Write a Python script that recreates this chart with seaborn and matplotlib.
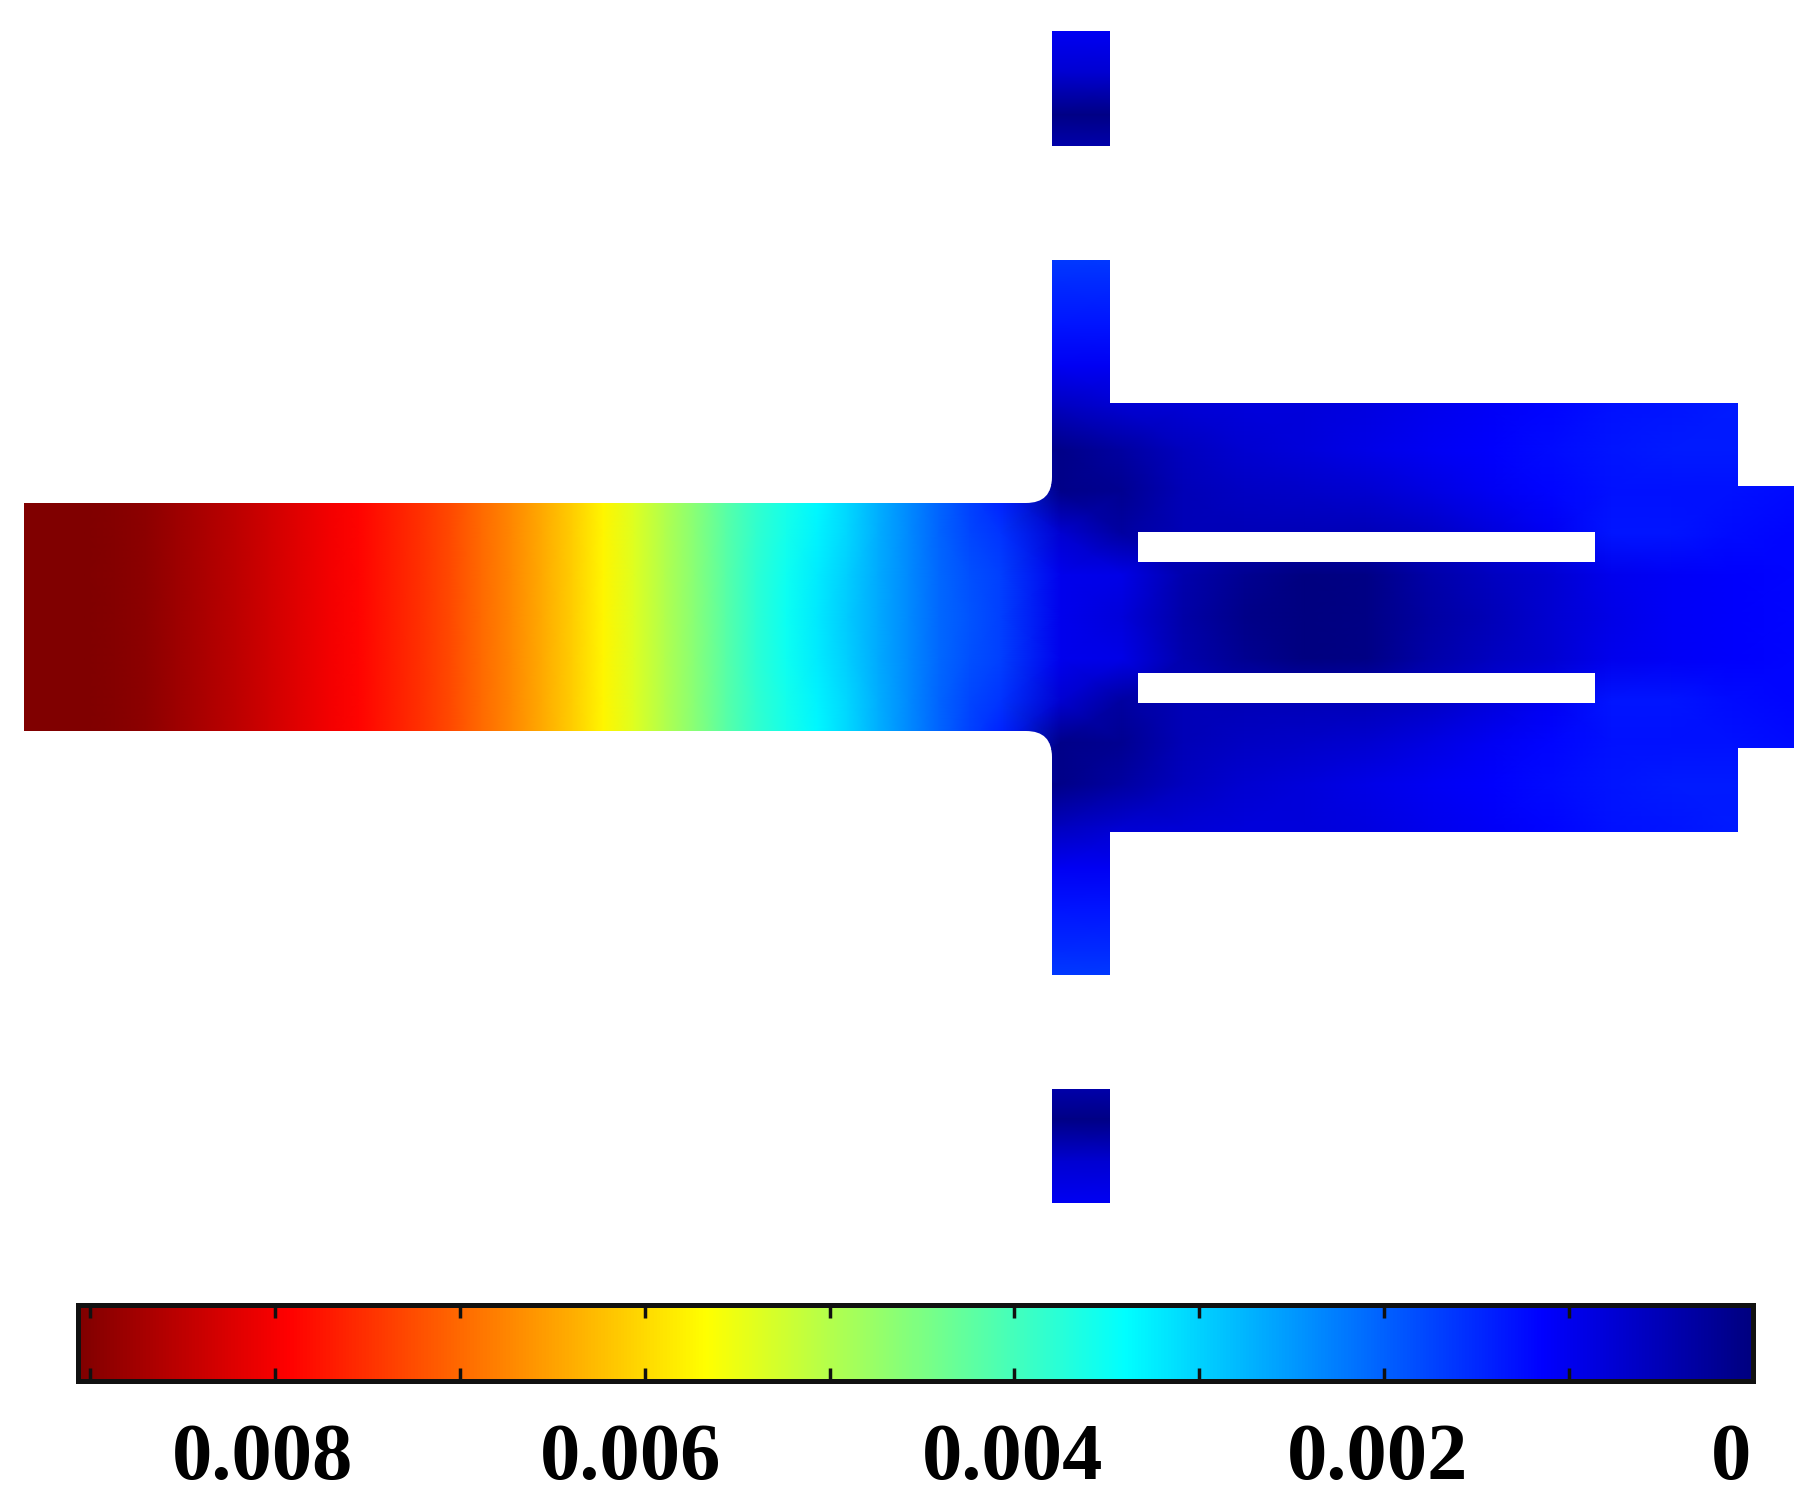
import numpy as np
import matplotlib
matplotlib.use('Agg')
import matplotlib.pyplot as plt
from matplotlib.colors import LinearSegmentedColormap
from matplotlib.path import Path
from matplotlib.patches import PathPatch
from matplotlib.transforms import Affine2D, ScaledTranslation
import seaborn as sns

sns.set_style("white")
plt.rcParams['font.family'] = ['Liberation Serif', 'DejaVu Serif']
plt.rcParams['font.weight'] = 'bold'

FIG_W, FIG_H = 1820, 1509
DPI = 100

################### Data (field values in units of 1e-3) ######################
# Long bar, same on all rows as far as the cyan band
bar_profile = [9.08, 9.08, 9.06, 9.01, 8.94, 8.80, 8.65, 8.51, 8.35, 8.20, 8.04, 7.89,
               7.70, 7.50, 7.28, 6.99, 6.73, 6.43, 6.10, 5.74, 5.37, 4.99, 4.61, 4.19]

# Right end of the bar, rows y = 491, 533, 575, 617 px
bar_end_rows = [
    [3.85, 3.60, 3.36, 3.06, 2.71, 2.36, 2.03, 1.71, 1.41],
    [3.83, 3.57, 3.30, 3.03, 2.69, 2.36, 2.03, 1.76, 1.60],
    [3.80, 3.52, 3.24, 2.96, 2.65, 2.36, 2.07, 1.86, 1.71],
    [3.80, 3.50, 3.21, 2.94, 2.64, 2.36, 2.07, 1.88, 1.71],
]

# Vertical stem and blocks, two columns, top row down to the centre line
stem_rows = [
    [1.03, 1.03], [0.73, 0.73], [0.06, 0.06], [0.51, 0.51], [1.23, 1.23],
    [1.75, 1.75], [1.51, 1.51], [1.32, 1.32], [1.03, 1.03], [0.57, 0.73],
    [0.10, 0.31], [0.10, 0.16], [0.73, 0.31], [0.98, 0.93], [0.98, 0.83],
]

# Wide body and end cap, rows y = 408, 450, 491, 533, 575, 617 px
body_rows = [
    [0.77, 0.83, 0.83, 0.87, 0.98, 1.08, 1.18, 1.28, 1.32, 1.37, 1.32],
    [0.57, 0.73, 0.83, 0.93, 1.03, 1.13, 1.23, 1.32, 1.37, 1.37, 1.32],
    [0.51, 0.61, 0.67, 0.73, 0.87, 1.03, 1.18, 1.28, 1.28, 1.28, 1.23],
    [0.51, 0.51, 0.51, 0.51, 0.61, 0.83, 1.03, 1.32, 1.32, 1.23, 1.18],
    [0.41, 0.16, 0.00, 0.06, 0.36, 0.57, 0.73, 0.98, 1.08, 1.13, 1.18],
    [0.36, 0.10, 0.00, 0.06, 0.31, 0.51, 0.73, 0.93, 1.08, 1.13, 1.18],
]

FIELD_MAX = 9.07e-3
tick_values = [0.009, 0.008, 0.007, 0.006, 0.005, 0.004, 0.003, 0.002, 0.001, 0]
tick_labels = ['', '0.008', '', '0.006', '', '0.004', '', '0.002', '', '0']
label_shift_px = [0, -13, 0, -14, 0, -2, 0, -6, 0, -22]

# MATLAB style jet, its colour stops sit a little off matplotlib's
matlab_jet = LinearSegmentedColormap.from_list('matlab_jet', [
    (0, (0, 0, 0.5)), (0.125, (0, 0, 1)), (0.375, (0, 1, 1)),
    (0.625, (1, 1, 0)), (0.875, (1, 0, 0)), (1, (0.5, 0, 0))], N=512)

################### Build the fields ##########################################
bar_end = np.array(bar_end_rows)
stem = np.array(stem_rows)
body = np.array(body_rows)

bar_half = np.hstack([np.tile(bar_profile, (4, 1)), bar_end])
bar_field = np.vstack([bar_half, bar_half[-2::-1]]) * 1e-3

# Everything above the body and the bar is cut away by the outline later
seam = np.concatenate([stem[:11, 0], bar_end[:, -1]]).reshape(-1, 1)
body_top = np.tile(body[0], (9, 1))
right_half = np.hstack([seam, stem, np.vstack([body_top, body])])
right_field = np.vstack([right_half, right_half[-2::-1]]) * 1e-3

################### Plot ######################################################
fig = plt.figure(figsize=(FIG_W / DPI, FIG_H / DPI), dpi=DPI)

def pixel_axes(x0, y0, x1, y1):
    # Axes from figure pixels, y counted from the top
    return fig.add_axes([x0 / FIG_W, 1 - y1 / FIG_H, (x1 - x0) / FIG_W, (y1 - y0) / FIG_H])

ax_bar = pixel_axes(24, 491, 1000, 743)
ax_right = pixel_axes(1000, 31, 1794, 1203)
cax = pixel_axes(77.5, 1305, 1753.5, 1381)

sns.heatmap(bar_field, ax=ax_bar, cbar=False, cmap=matlab_jet, vmin=0, vmax=FIELD_MAX,
            xticklabels=False, yticklabels=False, shading='gouraud')
sns.heatmap(right_field, ax=ax_right, cbar_ax=cax, cmap=matlab_jet, vmin=0, vmax=FIELD_MAX,
            xticklabels=False, yticklabels=False, shading='gouraud',
            cbar_kws={'orientation': 'horizontal', 'ticks': tick_values})

for ax, grid in [(ax_bar, bar_field), (ax_right, right_field)]:
    ax.set_xlim(0, grid.shape[1] - 1)
    ax.set_ylim(grid.shape[0] - 1, 0)
    ax.set_axis_off()

# Outline of the part, in figure pixels
M, L, Q, C = Path.MOVETO, Path.LINETO, Path.CURVE3, Path.CLOSEPOLY
verts, codes = [], []

def add_shape(points):
    for x, y, code in points:
        verts.append((x, y))
        codes.append(code)
    verts.append(points[0][:2])
    codes.append(C)

add_shape([(1052, 31, M), (1110, 31, L), (1110, 146, L), (1052, 146, L)])
add_shape([(1052, 1089, M), (1110, 1089, L), (1110, 1203, L), (1052, 1203, L)])
add_shape([(24, 503, M), (1026, 503, L), (1052, 503, Q), (1052, 477, Q),
           (1052, 260, L), (1110, 260, L), (1110, 403, L), (1738, 403, L),
           (1738, 486, L), (1794, 486, L), (1794, 748, L), (1738, 748, L),
           (1738, 832, L), (1110, 832, L), (1110, 975, L), (1052, 975, L),
           (1052, 757, L), (1052, 731, Q), (1026, 731, Q), (24, 731, L)])
# Slots wind the other way so they stay open
add_shape([(1138, 532, M), (1138, 562, L), (1595, 562, L), (1595, 532, L)])
add_shape([(1138, 673, M), (1138, 703, L), (1595, 703, L), (1595, 673, L)])

# Each mesh gets its own path, Agg caches the clip mask per path
for ax in [ax_bar, ax_right]:
    pixel_trans = Affine2D().scale(1, -1).translate(0, FIG_H)
    outline = PathPatch(Path(np.array(verts, dtype=float), list(codes)), transform=pixel_trans,
                        facecolor='none', edgecolor='none')
    ax.collections[0].set_clip_path(outline)

# Colorbar runs from high on the left to zero on the right
cax.invert_xaxis()
cax.set_axisbelow(False)
cbar = ax_right.collections[0].colorbar
cbar.outline.set_linewidth(3.6)
cbar.outline.set_edgecolor('#111111')
cbar.set_ticks(tick_values, labels=tick_labels)
cax.tick_params(axis='x', which='major', direction='in', top=True, bottom=True,
                length=9.4, width=2.5, color='#111111', pad=30, labelsize=58,
                labelcolor='black')

for label, shift in zip(cax.get_xticklabels(), label_shift_px):
    label.set_fontweight('bold')
    label.set_transform(label.get_transform()
                        + ScaledTranslation(shift / DPI, 0, fig.dpi_scale_trans))

fig.savefig('out.png', dpi=DPI)
